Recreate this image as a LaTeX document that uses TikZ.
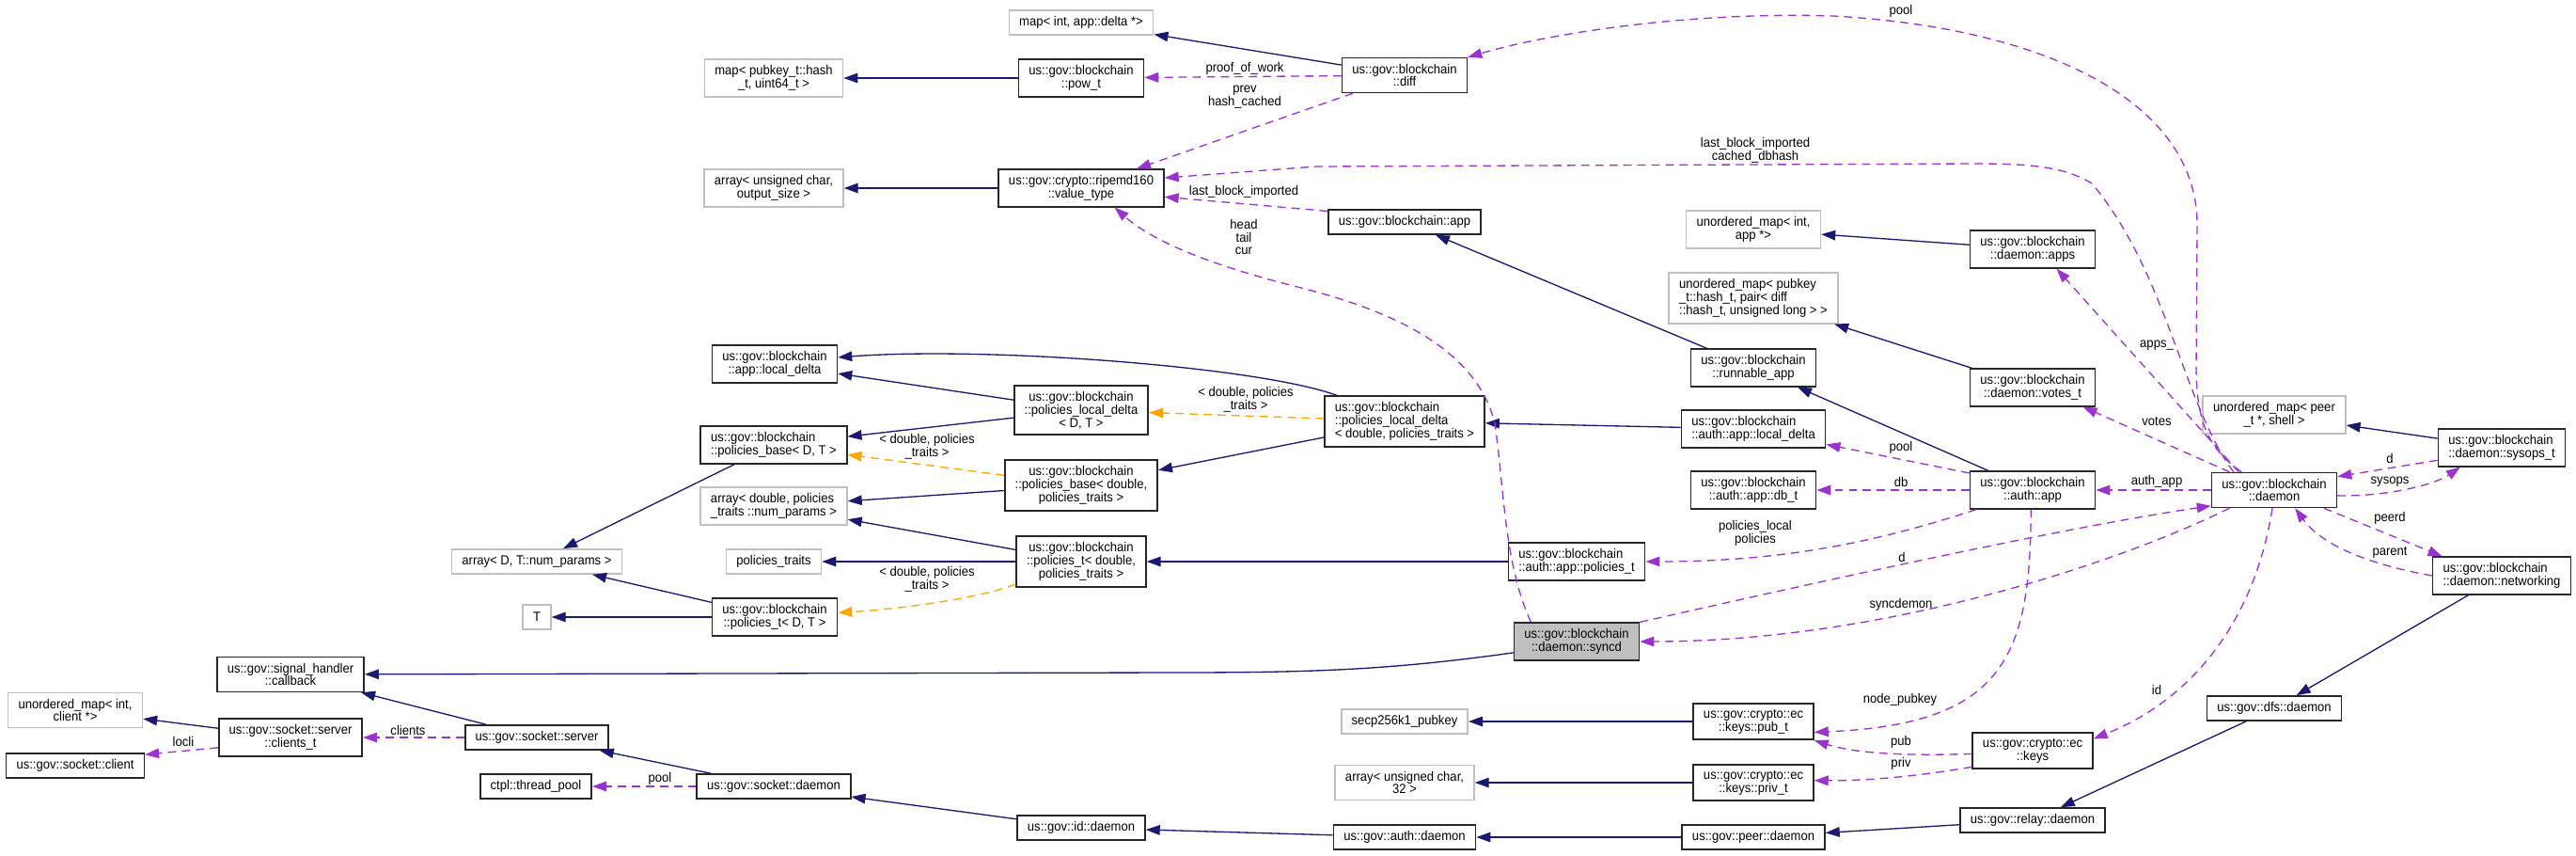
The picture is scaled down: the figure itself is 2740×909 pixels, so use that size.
\documentclass[tikz,border=0pt]{standalone}
\usepackage{fontspec}
\setmainfont{Liberation Sans}[FakeStretch=0.93]
\usetikzlibrary{arrows.meta}
\definecolor{edgeblue}{HTML}{191970}
\definecolor{usepurple}{HTML}{9A32CD}
\definecolor{tmplorange}{HTML}{FFA500}
\definecolor{boxgray}{HTML}{BFBFBF}
\begin{document}
\begin{tikzpicture}[x=0.02cm,y=-0.02cm,font=\fontsize{8}{7.9}\selectfont,
  cls/.style={draw=black!85,line width=0.9pt,fill=white,inner xsep=6.2pt,inner ysep=3.6pt,minimum height=0.52cm,align=center},
  ext/.style={cls,draw=boxgray},
  inh/.style={draw=edgeblue,line width=0.75pt,-{Triangle[length=0.3cm,width=0.21cm]}},
  usage/.style={draw=usepurple,line width=0.75pt,dash pattern=on 5pt off 3.5pt,-{Triangle[length=0.3cm,width=0.21cm]}},
  tmpl/.style={usage,draw=tmplorange},
  lbl/.style={inner sep=0pt,align=center}]
  \path[fill=white] (0,0) rectangle (2740,909);
  % top: hashes and difficulty
  \node[ext] (mapdelta) at (1150,24) {map< int, app::delta *>};
  \node[ext] (mappow) at (823,83) {map< pubkey\_t::hash\\\_t, uint64\_t >};
  \node[cls] (powt) at (1150,83) {us::gov::blockchain\\::pow\_t};
  \node[cls] (diff) at (1494,80) {us::gov::blockchain\\::diff};
  \node[ext] (arrout) at (823,200) {array< unsigned char,\\output\_size >};
  \node[cls] (ripemd) at (1150,200) {us::gov::crypto::ripemd160\\::value\_type};
  \node[cls] (bcapp) at (1494,236) {us::gov::blockchain::app};
  \node[ext] (mapapps) at (1865,244) {unordered\_map< int,\\app *>};
  \node[ext,align=left] (mapvotes) at (1865,317) {unordered\_map< pubkey\\\_t::hash\_t, pair< diff\\::hash\_t, unsigned long > >};
  \node[cls] (apps) at (2162,265) {us::gov::blockchain\\::daemon::apps};
  % policies templates
  \node[cls] (runapp) at (1865,391) {us::gov::blockchain\\::runnable\_app};
  \node[cls] (appld) at (824,387) {us::gov::blockchain\\::app::local\_delta};
  \node[cls] (plddT) at (1150,436) {us::gov::blockchain\\::policies\_local\_delta\\< D, T >};
  \node[cls,align=left] (plddbl) at (1494,448) {us::gov::blockchain\\::policies\_local\_delta\\< double, policies\_traits >};
  \node[cls,align=left] (authld) at (1865,456) {us::gov::blockchain\\::auth::app::local\_delta};
  \node[cls] (votes) at (2162,412) {us::gov::blockchain\\::daemon::votes\_t};
  \node[cls,align=left] (pbDT) at (823,473) {us::gov::blockchain\\::policies\_base< D, T >};
  \node[cls] (pbdbl) at (1150,516) {us::gov::blockchain\\::policies\_base< double,\\policies\_traits >};
  \node[ext,align=left] (arrdbl) at (823,538) {array< double, policies\\\_traits ::num\_params >};
  \node[cls] (dbt) at (1865,521) {us::gov::blockchain\\::auth::app::db\_t};
  \node[cls] (authapp) at (2162,521) {us::gov::blockchain\\::auth::app};
  \node[cls] (daemon) at (2419,521) {us::gov::blockchain\\::daemon};
  \node[ext] (mappeer) at (2419,441) {unordered\_map< peer\\\_t *, shell >};
  \node[cls,align=left] (sysops) at (2661,476) {us::gov::blockchain\\::daemon::sysops\_t};
  \node[ext] (arrDT) at (571,597) {array< D, T::num\_params >};
  \node[ext] (ptraits) at (823,597) {policies\_traits};
  \node[cls] (ptdbl) at (1150,597) {us::gov::blockchain\\::policies\_t< double,\\policies\_traits >};
  \node[cls,align=left] (appol) at (1677,597) {us::gov::blockchain\\::auth::app::policies\_t};
  \node[ext] (tparam) at (571,656) {T};
  \node[cls] (ptDT) at (824,656) {us::gov::blockchain\\::policies\_t< D, T >};
  \node[cls,align=left] (networking) at (2661,612) {us::gov::blockchain\\::daemon::networking};
  \node[cls,fill=boxgray] (syncd) at (1677,682) {us::gov::blockchain\\::daemon::syncd};
  % sockets and daemons
  \node[cls] (callback) at (309,717) {us::gov::signal\_handler\\::callback};
  \node[ext] (mapcli) at (80,755) {unordered\_map< int,\\client *>};
  \node[cls] (clients) at (309,784) {us::gov::socket::server\\::clients\_t};
  \node[cls] (client) at (80,814) {us::gov::socket::client};
  \node[cls] (server) at (571,784) {us::gov::socket::server};
  \node[cls] (dfs) at (2419,753) {us::gov::dfs::daemon};
  \node[ext] (secp) at (1494,767) {secp256k1\_pubkey};
  \node[cls] (pubt) at (1865,767) {us::gov::crypto::ec\\::keys::pub\_t};
  \node[cls] (keys) at (2162,798) {us::gov::crypto::ec\\::keys};
  \node[cls] (threadpool) at (570,836) {ctpl::thread\_pool};
  \node[cls] (sockd) at (823,836) {us::gov::socket::daemon};
  \node[ext] (arr32) at (1494,832) {array< unsigned char,\\32 >};
  \node[cls] (privt) at (1865,832) {us::gov::crypto::ec\\::keys::priv\_t};
  \node[cls] (relay) at (2162,872) {us::gov::relay::daemon};
  \node[cls] (idd) at (1150,880) {us::gov::id::daemon};
  \node[cls] (authd) at (1494,890) {us::gov::auth::daemon};
  \node[cls] (peerd) at (1865,890) {us::gov::peer::daemon};
  % inheritance
  \draw[inh] (diff) -- (mapdelta);
  \draw[inh] (powt) -- (mappow);
  \draw[inh] (ripemd) -- (arrout);
  \draw[inh] (apps) -- (mapapps);
  \draw[inh] (runapp) -- (bcapp);
  \draw[inh] (votes) -- (mapvotes);
  \draw[inh] (authapp) -- (runapp);
  \draw[inh] (authld) -- (plddbl);
  \draw[inh] (plddbl.159) .. controls (1340,390) and (1050,368) .. (appld.6);
  \draw[inh] (plddT) -- (appld);
  \draw[inh] (plddT) -- (pbDT);
  \draw[inh] (plddbl) -- (pbdbl);
  \draw[inh] (pbdbl) -- (arrdbl);
  \draw[inh] (ptdbl) -- (arrdbl);
  \draw[inh] (ptdbl) -- (ptraits);
  \draw[inh] (appol) -- (ptdbl);
  \draw[inh] (pbDT) -- (arrDT);
  \draw[inh] (ptDT) -- (arrDT);
  \draw[inh] (ptDT) -- (tparam);
  \draw[inh] (sysops) -- (mappeer);
  \draw[inh] (networking) -- (dfs);
  \draw[inh] (dfs) -- (relay);
  \draw[inh] (relay) -- (peerd);
  \draw[inh] (peerd) -- (authd);
  \draw[inh] (authd) -- (idd);
  \draw[inh] (idd) -- (sockd);
  \draw[inh] (sockd) -- (server);
  \draw[inh] (server) -- (callback);
  \draw[inh] (syncd.190) .. controls (1480,712) and (1400,715) .. (1250,715) -- (callback);
  \draw[inh] (clients) -- (mapcli);
  \draw[inh] (pubt) -- (secp);
  \draw[inh] (privt) -- (arr32);
  % template instances
  \draw[tmpl] (plddbl) -- (plddT);
  \draw[tmpl] (pbdbl) -- (pbDT);
  \draw[tmpl] (ptdbl.199) .. controls (1040,637) and (950,648) .. (ptDT.4);
  \node[lbl] (lt1) at (1325,425) {< double, policies\\\_traits >};
  \node[lbl] (lt2) at (986,475) {< double, policies\\\_traits >};
  \node[lbl] (lt3) at (986,616) {< double, policies\\\_traits >};
  % members
  \draw[usage] (diff) -- (powt);
  \draw[usage] (diff) -- (ripemd);
  \draw[usage] (daemon.156) .. controls (2322,430) and (2305,290) .. (2225,195) .. controls (2195,177) and (2160,174) .. (2100,174) -- (1400,177) -- (ripemd.7);
  \draw[usage] (bcapp.172) -- (ripemd.-6);
  \draw[usage] (syncd.157) .. controls (1600,600) and (1600,520) .. (1590,450) .. controls (1570,370) and (1480,330) .. (1380,305) .. controls (1300,285) and (1230,260) .. (ripemd.-30);
  \draw[usage] (daemon.151) .. controls (2350,478) and (2336,450) .. (2336,390) -- (2337,240) .. controls (2338,110) and (2180,30) .. (1950,17) .. controls (1800,12) and (1650,35) .. (diff.north east);
  \draw[usage] (daemon.153) -- (apps.-39);
  \draw[usage] (daemon.158) -- (votes.-21);
  \draw[usage] (daemon) -- (authapp);
  \draw[usage] (authapp.165) -- (authld.-12);
  \draw[usage] (authapp) -- (dbt);
  \draw[usage] (authapp.199) .. controls (2000,575) and (1900,597) .. (appol.east);
  \draw[usage] (syncd.north east) .. controls (1950,615) and (2200,560) .. (daemon.194);
  \draw[usage] (daemon.-158) .. controls (2250,600) and (2000,682) .. (syncd.east);
  \draw[usage] (sysops.191) -- (daemon.12);
  \draw[usage] (daemon.-5) .. controls (2540,528) and (2590,515) .. (sysops.-155);
  \draw[usage] (daemon.-20) -- (networking.162);
  \draw[usage] (networking.west) .. controls (2520,600) and (2470,580) .. (daemon.-41);
  \draw[usage] (daemon.-96) .. controls (2400,650) and (2340,740) .. (keys.11);
  \draw[usage] (authapp.-95) .. controls (2160,700) and (2130,770) .. (pubt.-10);
  \draw[usage] (keys.183) .. controls (2020,804) and (1970,800) .. (pubt.south east);
  \draw[usage] (keys.195) .. controls (2040,825) and (1990,830) .. (privt.2);
  \draw[usage] (server) -- (clients);
  \draw[usage] (clients.188) -- (client.9);
  \draw[usage] (sockd) -- (threadpool);
  % member names
  \node[lbl] (lpow) at (1324,73) {proof\_of\_work};
  \node[lbl] (lprev) at (1324,103) {prev\\hash\_cached};
  \node[lbl] (llast) at (1867,160) {last\_block\_imported\\cached\_dbhash};
  \node[lbl] (lapp) at (1323,204) {last\_block\_imported};
  \node[lbl] (lhead) at (1323,252) {head\\tail\\cur};
  \node[lbl] (lpool) at (2022,12) {pool};
  \node[lbl] (lapps) at (2294,367) {apps\_};
  \node[lbl] (lvotes) at (2294,448) {votes};
  \node[lbl] (lauth) at (2294,512) {auth\_app};
  \node[lbl] (lpoolb) at (2022,476) {pool};
  \node[lbl] (ldb) at (2022,512) {db};
  \node[lbl] (lpol) at (1867,567) {policies\_local\\policies};
  \node[lbl] (ld) at (2023,592) {d};
  \node[lbl] (lsyncdemon) at (2022,643) {syncdemon};
  \node[lbl] (ldd) at (2542,487) {d};
  \node[lbl] (lsysops) at (2542,512) {sysops};
  \node[lbl] (lpeerd) at (2542,551) {peerd};
  \node[lbl] (lparent) at (2542,587) {parent};
  \node[lbl] (lid) at (2294,733) {id};
  \node[lbl] (lnode) at (2021,744) {node\_pubkey};
  \node[lbl] (lpub) at (2022,789) {pub};
  \node[lbl] (lpriv) at (2022,812) {priv};
  \node[lbl] (lclients) at (434,776) {clients};
  \node[lbl] (llocli) at (195,788) {locli};
  \node[lbl] (lpoolc) at (702,828) {pool};
\end{tikzpicture}
\end{document}
